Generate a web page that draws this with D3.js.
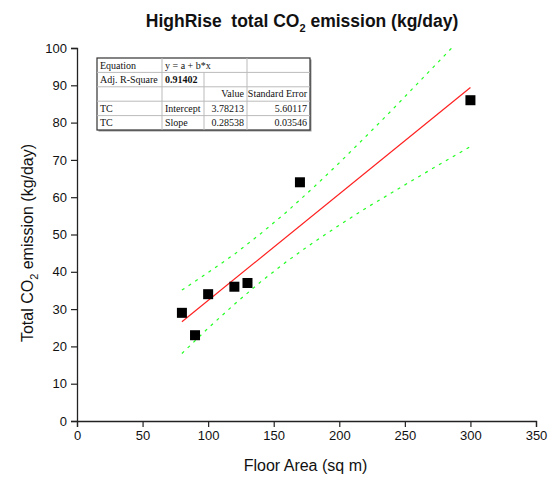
<!DOCTYPE html>
<html>
<head>
<meta charset="utf-8">
<script src="https://cdn.jsdelivr.net/npm/d3@7"></script>
<style>
  body { margin: 0; background: #fff; }
  text { font-family: "Liberation Sans", Arial, sans-serif; }
</style>
</head>
<body>
<div class="canvas"></div>
<script>
// data
const floorArea = [80, 90, 100, 120, 130, 170, 300];
const emission = [29, 23, 34, 36, 37, 64, 86];

// linear fit y = a + b*x
const fitA = 3.78213;
const fitB = 0.28538;
const fitRange = [80, 300];

// 95% confidence bands
const bandX = [80, 100, 120, 140, 160, 180, 200, 220, 240, 260, 280, 300];
const bandUpper = [35.1, 39.8, 44.7, 50.2, 56.1, 62.5, 69.2, 76.2, 83.3, 90.6, 97.9, 105.2];
const bandLower = [18.1, 24.9, 31.3, 37.3, 42.8, 47.8, 52.5, 57.0, 61.2, 65.4, 69.5, 73.6];

// stats table
const tableRows = [
    ['Equation', 'y = a + b*x', '', ''],
    ['Adj. R-Square', '0.91402', '', ''],
    ['', '', 'Value', 'Standard Error'],
    ['TC', 'Intercept', '3.78213', '5.60117'],
    ['TC', 'Slope', '0.28538', '0.03546']
];

const xTicks = [0, 50, 100, 150, 200, 250, 300, 350];
const yTicks = [0, 10, 20, 30, 40, 50, 60, 70, 80, 90, 100];

const svg = d3.select('.canvas')
    .append('svg')
        .attr('width', 557)
        .attr('height', 477);

const margin = {top: 48, left: 77, right: 21, bottom: 56};
const graphWidth = 557 - margin.left - margin.right;
const graphHeight = 477 - margin.top - margin.bottom;

const graph = svg.append('g')
    .attr('transform', `translate(${margin.left}, ${margin.top})`);

const x = d3.scaleLinear().domain([0, 350]).range([0, graphWidth]);
const y = d3.scaleLinear().domain([0, 100]).range([graphHeight, 0]);

graph.append('clipPath').attr('id', 'plotclip')
    .append('rect')
        .attr('x', 0).attr('y', 0)
        .attr('width', graphWidth).attr('height', graphHeight);

//axes with minor ticks
const xMinor = d3.range(0, 351, 25);
const yMinor = d3.range(0, 101, 5);

const xAxisGroup = graph.append('g')
    .attr('transform', `translate(0, ${graphHeight})`);
xAxisGroup.call(d3.axisBottom(x).tickValues(xMinor).tickSize(3).tickFormat(''));
xAxisGroup.call(d3.axisBottom(x).tickValues(xTicks).tickSize(6).tickPadding(4));

const yAxisGroup = graph.append('g');
yAxisGroup.call(d3.axisLeft(y).tickValues(yMinor).tickSize(3).tickFormat(''));
yAxisGroup.call(d3.axisLeft(y).tickValues(yTicks).tickSize(6).tickPadding(4));

graph.selectAll('.domain').attr('stroke', '#222').attr('stroke-width', 1.3);
graph.selectAll('.tick line').attr('stroke', '#222').attr('stroke-width', 1.2);
graph.selectAll('.tick text')
    .attr('font-family', '"Liberation Sans", Arial, sans-serif')
    .attr('font-size', 13)
    .attr('fill', '#111');

//confidence bands
const bandLine = vals => d3.line()
    .x((d, i) => x(bandX[i]))
    .y(d => y(d))(vals);

[bandUpper, bandLower].forEach(vals => {
    graph.append('path')
        .attr('d', bandLine(vals))
        .attr('clip-path', 'url(#plotclip)')
        .attr('fill', 'none')
        .attr('stroke', '#22ff22')
        .attr('stroke-width', 1.2)
        .attr('stroke-dasharray', '3,5');
});

//fit line
graph.append('line')
    .attr('x1', x(fitRange[0])).attr('y1', y(fitA + fitB * fitRange[0]))
    .attr('x2', x(fitRange[1])).attr('y2', y(fitA + fitB * fitRange[1]))
    .attr('stroke', '#ff2020')
    .attr('stroke-width', 1.2);

//points
graph.selectAll('rect.pt')
    .data(floorArea)
    .enter()
    .append('rect')
        .attr('class', 'pt')
        .attr('width', 10)
        .attr('height', 10)
        .attr('x', (d) => x(d) - 5)
        .attr('y', (d, i) => y(emission[i]) - 5)
        .attr('fill', '#000');

//stats table
const table = svg.append('g').attr('transform', 'translate(97, 58)');
const colX = [0, 65, 107, 150, 213];
const rowH = 14.4;
table.append('rect')
    .attr('x', 1.5).attr('y', 1.5)
    .attr('width', colX[4]).attr('height', rowH * 5)
    .attr('fill', '#999');
table.append('rect')
    .attr('width', colX[4]).attr('height', rowH * 5)
    .attr('fill', '#fff')
    .attr('stroke', '#333')
    .attr('stroke-width', 1.2);
tableRows.forEach((row, r) => {
    if (r > 0) {
        table.append('line')
            .attr('x1', 0).attr('x2', colX[4])
            .attr('y1', r * rowH).attr('y2', r * rowH)
            .attr('stroke', '#bbb');
    }
    [1, 2, 3].forEach(c => {
        if (r === 0 && c === 2) return;
        table.append('line')
            .attr('x1', colX[c]).attr('x2', colX[c])
            .attr('y1', r * rowH).attr('y2', (r + 1) * rowH)
            .attr('stroke', '#bbb');
    });
    row.forEach((cell, c) => {
        if (!cell) return;
        const right = r >= 2 && c >= 2;
        table.append('text')
            .attr('x', right ? colX[c + 1] - 3 : colX[c] + 3)
            .attr('y', r * rowH + 10.5)
            .attr('text-anchor', right ? 'end' : 'start')
            .style('font-family', '"Liberation Serif", "Times New Roman", serif')
            .attr('font-size', 10)
            .attr('font-weight', r === 1 && c === 1 ? 'bold' : 'normal')
            .attr('fill', '#111')
            .text(cell);
    });
});

//title
const title = svg.append('text')
    .attr('x', 302)
    .attr('y', 27)
    .attr('text-anchor', 'middle')
    .attr('font-size', 17.5)
    .attr('font-weight', 'bold')
    .attr('fill', '#111');
title.append('tspan').text('HighRise\u00a0\u00a0total CO');
title.append('tspan').attr('font-size', 11).attr('dy', 5).text('2');
title.append('tspan').attr('dy', -5).text(' emission (kg/day)');

//axis titles
svg.append('text')
    .attr('x', margin.left + x(175) - 1)
    .attr('y', 471)
    .attr('text-anchor', 'middle')
    .attr('font-size', 16)
    .attr('fill', '#111')
    .text('Floor Area (sq m)');

const yTitle = svg.append('text')
    .attr('transform', 'translate(33, 243) rotate(-90)')
    .attr('text-anchor', 'middle')
    .attr('font-size', 16)
    .attr('fill', '#111');
yTitle.append('tspan').text('Total CO');
yTitle.append('tspan').attr('font-size', 11).attr('dy', 5).text('2');
yTitle.append('tspan').attr('dy', -5).text(' emission (kg/day)');
</script>
</body>
</html>
